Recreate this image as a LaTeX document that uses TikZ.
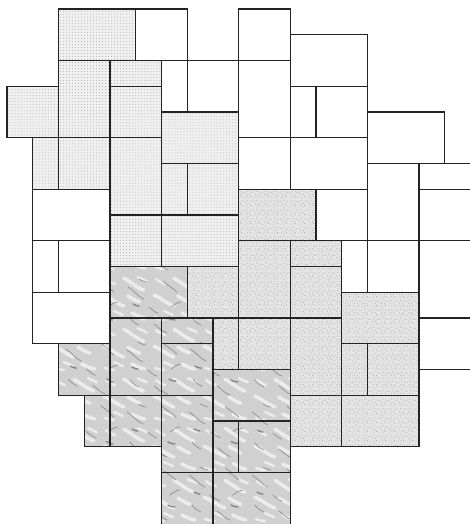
\documentclass[tikz,border=0pt]{standalone}
\usepackage{tikz}
\usetikzlibrary{patterns}
\definecolor{slabline}{RGB}{35,35,35}
\definecolor{dotbase}{RGB}{240,240,240}
\definecolor{dotgrain}{RGB}{175,175,175}
\definecolor{specbase}{RGB}{228,228,228}
\definecolor{specgrain}{RGB}{145,145,145}
\definecolor{marblebase}{RGB}{208,208,208}
\definecolor{marblecloud}{RGB}{236,236,236}
\definecolor{marblevein}{RGB}{135,135,135}

% irregular grain for the granite slabs
\pgfdeclarepatternformonly{speckle}{\pgfpointorigin}{\pgfqpoint{9pt}{9pt}}{\pgfqpoint{9pt}{9pt}}{
    \pgfpathcircle{\pgfqpoint{1.1pt}{1.9pt}}{0.45pt}
    \pgfpathcircle{\pgfqpoint{4.3pt}{0.8pt}}{0.35pt}
    \pgfpathcircle{\pgfqpoint{7.2pt}{2.6pt}}{0.5pt}
    \pgfpathcircle{\pgfqpoint{2.8pt}{4.6pt}}{0.4pt}
    \pgfpathcircle{\pgfqpoint{5.9pt}{5.1pt}}{0.45pt}
    \pgfpathcircle{\pgfqpoint{8.1pt}{7.0pt}}{0.35pt}
    \pgfpathcircle{\pgfqpoint{0.9pt}{7.4pt}}{0.5pt}
    \pgfpathcircle{\pgfqpoint{4.0pt}{8.0pt}}{0.4pt}
    \pgfpathcircle{\pgfqpoint{6.6pt}{8.2pt}}{0.3pt}
    \pgfpathcircle{\pgfqpoint{3.5pt}{2.8pt}}{0.3pt}
    \pgfusepath{fill}
}
% dark veins of the marble slabs
\pgfdeclarepatternformonly{marblevein}{\pgfpointorigin}{\pgfqpoint{62pt}{62pt}}{\pgfqpoint{62pt}{62pt}}{
    \pgfsetlinewidth{0.6pt}
    \pgfsetroundcap
    \pgfpathmoveto{\pgfqpoint{3pt}{50pt}}
    \pgfpathcurveto{\pgfqpoint{9pt}{47pt}}{\pgfqpoint{12pt}{41pt}}{\pgfqpoint{19pt}{38pt}}
    \pgfpathmoveto{\pgfqpoint{30pt}{14pt}}
    \pgfpathcurveto{\pgfqpoint{34pt}{12pt}}{\pgfqpoint{37pt}{7pt}}{\pgfqpoint{43pt}{5pt}}
    \pgfpathmoveto{\pgfqpoint{6pt}{20pt}}
    \pgfpathcurveto{\pgfqpoint{9pt}{16pt}}{\pgfqpoint{11pt}{15pt}}{\pgfqpoint{15pt}{13pt}}
    \pgfpathmoveto{\pgfqpoint{38pt}{56pt}}
    \pgfpathcurveto{\pgfqpoint{42pt}{52pt}}{\pgfqpoint{47pt}{50pt}}{\pgfqpoint{52pt}{45pt}}
    \pgfpathmoveto{\pgfqpoint{24pt}{30pt}}
    \pgfpathcurveto{\pgfqpoint{27pt}{28pt}}{\pgfqpoint{29pt}{25pt}}{\pgfqpoint{33pt}{24pt}}
    \pgfpathmoveto{\pgfqpoint{46pt}{30pt}}
    \pgfpathcurveto{\pgfqpoint{49pt}{32pt}}{\pgfqpoint{52pt}{35pt}}{\pgfqpoint{56pt}{35pt}}
    \pgfpathmoveto{\pgfqpoint{14pt}{58pt}}
    \pgfpathcurveto{\pgfqpoint{17pt}{57pt}}{\pgfqpoint{19pt}{55pt}}{\pgfqpoint{22pt}{55pt}}
    \pgfusepath{stroke}
    \pgfsetlinewidth{1.4pt}
    \pgfpathmoveto{\pgfqpoint{44pt}{20pt}}
    \pgfpathcurveto{\pgfqpoint{46pt}{19pt}}{\pgfqpoint{48pt}{18pt}}{\pgfqpoint{51pt}{18pt}}
    \pgfpathmoveto{\pgfqpoint{8pt}{33pt}}
    \pgfpathcurveto{\pgfqpoint{10pt}{32pt}}{\pgfqpoint{12pt}{31pt}}{\pgfqpoint{14pt}{31pt}}
    \pgfusepath{stroke}
}
% pale clouds of the marble slabs
\pgfdeclarepatternformonly{marblecloud}{\pgfpointorigin}{\pgfqpoint{50pt}{50pt}}{\pgfqpoint{50pt}{50pt}}{
    \pgfsetlinewidth{3.5pt}
    \pgfsetroundcap
    \pgfpathmoveto{\pgfqpoint{4pt}{28pt}}
    \pgfpathcurveto{\pgfqpoint{10pt}{26pt}}{\pgfqpoint{16pt}{20pt}}{\pgfqpoint{24pt}{17pt}}
    \pgfpathmoveto{\pgfqpoint{24pt}{45pt}}
    \pgfpathcurveto{\pgfqpoint{30pt}{42pt}}{\pgfqpoint{36pt}{36pt}}{\pgfqpoint{44pt}{33pt}}
    \pgfpathmoveto{\pgfqpoint{32pt}{10pt}}
    \pgfpathcurveto{\pgfqpoint{36pt}{8pt}}{\pgfqpoint{40pt}{6pt}}{\pgfqpoint{45pt}{5pt}}
    \pgfpathmoveto{\pgfqpoint{28pt}{27pt}}
    \pgfpathcurveto{\pgfqpoint{32pt}{25pt}}{\pgfqpoint{36pt}{22pt}}{\pgfqpoint{40pt}{21pt}}
    \pgfusepath{stroke}
    \pgfsetlinewidth{2.5pt}
    \pgfpathmoveto{\pgfqpoint{6pt}{44pt}}
    \pgfpathcurveto{\pgfqpoint{9pt}{42pt}}{\pgfqpoint{12pt}{40pt}}{\pgfqpoint{15pt}{39pt}}
    \pgfpathmoveto{\pgfqpoint{5pt}{6pt}}
    \pgfpathcurveto{\pgfqpoint{8pt}{5pt}}{\pgfqpoint{11pt}{4pt}}{\pgfqpoint{14pt}{4pt}}
    \pgfpathmoveto{\pgfqpoint{14pt}{12pt}}
    \pgfpathcurveto{\pgfqpoint{17pt}{11pt}}{\pgfqpoint{20pt}{9pt}}{\pgfqpoint{23pt}{8pt}}
    \pgfpathmoveto{\pgfqpoint{38pt}{46pt}}
    \pgfpathcurveto{\pgfqpoint{41pt}{45pt}}{\pgfqpoint{44pt}{43pt}}{\pgfqpoint{47pt}{42pt}}
    \pgfusepath{stroke}
}

\tikzset{
    slab/.style={draw=slabline, line width=1.1pt, fill=white},
    slabD/.style={draw=slabline, line width=1.1pt, preaction={fill=dotbase}, pattern=dots, pattern color=dotgrain},
    slabS/.style={draw=slabline, line width=1.1pt, preaction={fill=specbase}, pattern=speckle, pattern color=specgrain},
    slabM/.style={draw=slabline, line width=1.1pt, preaction={fill=marblebase}, preaction={pattern=marblecloud, pattern color=marblecloud}, pattern=marblevein, pattern color=marblevein},
}

\begin{document}
\begin{tikzpicture}[x=0.9cm, y=-0.9cm]
    \useasboundingbox (-0.272,-0.35) rectangle (17.98,20);
    \clip (-0.272,-0.35) rectangle (17.98,20);

    % Plain slabs
    \foreach \c/\r/\w/\h in {5/0/2/2, 6/2/1/2, 7/2/2/2, 9/0/2/2, 11/1/3/2, 9/2/2/3, 11/3/1/2, 12/3/2/2,
                             14/4/3/2, 9/5/2/2, 11/5/3/2, 14/6/2/3, 16/6/2.5/1, 16/7/2.5/2, 12/7/2/2,
                             1/7/3/2, 1/9/1/2, 2/9/2/2, 1/11/3/2, 13/9/1/2, 14/9/2/2, 16/9/2.5/3, 16/12/2.5/2} {
        \draw[slab] (\c,\r) rectangle ++(\w,\h);
    }

    % Dotted slabs
    \foreach \c/\r/\w/\h in {2/0/3/2, 2/2/2/3, 4/2/2/1, 4/3/2/2, 0/3/2/2, 6/4/3/2, 1/5/1/2,
                             2/5/2/2, 4/5/2/3, 6/6/1/2, 7/6/2/2, 4/8/2/2, 6/8/3/2} {
        \draw[slabD] (\c,\r) rectangle ++(\w,\h);
    }

    % Granite slabs
    \foreach \c/\r/\w/\h in {9/7/3/2, 9/9/2/3, 11/9/2/1, 11/10/2/2, 7/10/2/2, 13/11/3/2, 8/12/1/2,
                             9/12/2/2, 11/12/2/3, 13/13/1/2, 14/13/2/2, 11/15/2/2, 13/15/3/2} {
        \draw[slabS] (\c,\r) rectangle ++(\w,\h);
    }

    % Marble slabs
    \foreach \c/\r/\w/\h in {4/10/3/2, 4/12/2/3, 6/12/2/1, 2/13/2/2, 6/13/2/2, 8/14/3/2, 3/15/1/2,
                             4/15/2/2, 6/15/2/3, 8/16/1/2, 9/16/2/2, 6/18/2/2.5, 8/18/3/2.5} {
        \draw[slabM] (\c,\r) rectangle ++(\w,\h);
    }
\end{tikzpicture}
\end{document}
